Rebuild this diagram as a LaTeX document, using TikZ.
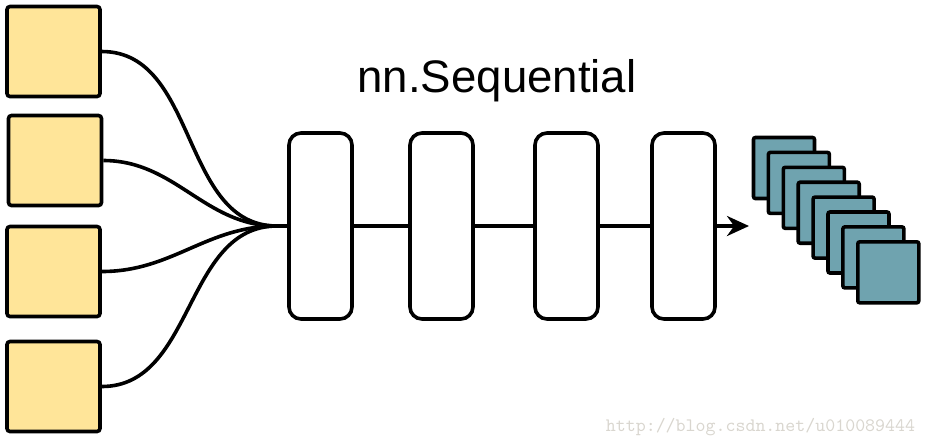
\documentclass[tikz,border=0pt]{standalone}
\usepackage{fontspec}
\usepackage{tikz}
\usetikzlibrary{arrows.meta,positioning,calc}
\newfontfamily\seqfont{Liberation Sans}
\definecolor{InYellow}{HTML}{FFE599}
\definecolor{OutTeal}{HTML}{6FA3AF}
\definecolor{MarkGray}{HTML}{D9D6CF}

\begin{document}
\begin{tikzpicture}[x=0.5pt,y=-0.5pt,>=Stealth,line width=1.8pt,
  inbox/.style={draw,fill=InYellow,rounded corners=1.5pt,minimum width=46.5pt,minimum height=45pt,inner sep=0pt},
  layer/.style={draw,fill=white,rounded corners=6pt,minimum width=31.5pt,minimum height=93pt,inner sep=0pt},
  outbox/.style={draw,fill=OutTeal,rounded corners=1pt,minimum size=30.5pt,inner sep=0pt}]
\useasboundingbox (0,0) rectangle (927,447);
\node[inbox] (in1) at (53.5,51.5) {};
\node[inbox] (in2) at (55,160.5) {};
\node[inbox] (in3) at (53.5,271.5) {};
\node[inbox] (in4) at (53.5,386.5) {};
\coordinate (merge) at (277,226);
\node[layer] (l1) at (320.5,226) {};
\node[layer] (l2) at (441.5,226) {};
\node[layer] (l3) at (566.5,226) {};
\node[layer] (l4) at (683.5,226) {};
\node[font=\seqfont\fontsize{22.8}{26}\selectfont] (title) at (497,81) {nn.Sequential};
\foreach \i in {0,...,7} \node[outbox] (out\i) at ({784+14.9*\i},{168+14.9*\i}) {};
\coordinate (tip) at (749,226);
\draw (in1.east) to[out=0,in=180] (merge);\draw (in2.east) to[out=0,in=180] (merge);
\draw (in3.east) to[out=0,in=180] (merge);\draw (in4.east) to[out=0,in=180] (merge);
\draw (merge)--(l1);\draw (l1)--(l2);\draw (l2)--(l3);\draw (l3)--(l4);
\draw[-{Stealth[length=11pt,width=10pt]}] (l4)--(tip);
\node[font=\ttfamily\fontsize{9.5}{11}\selectfont,text=MarkGray] (mark) at (760.5,427) {http://blog.csdn.net/u010089444};
\end{tikzpicture}
\end{document}
